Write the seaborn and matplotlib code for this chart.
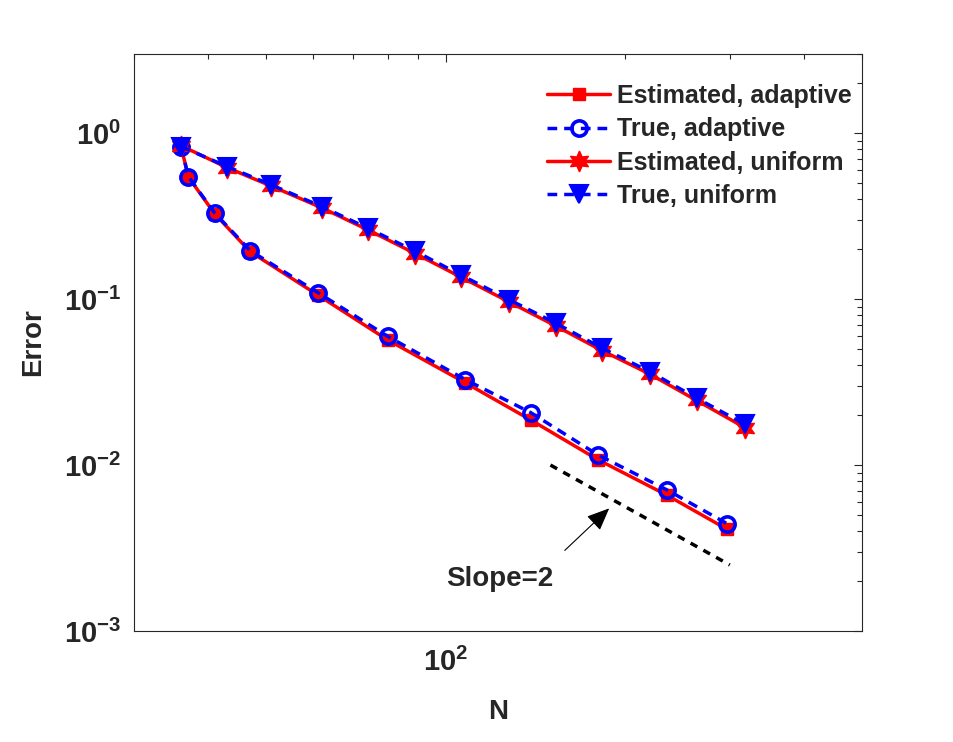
import numpy as np
import pandas as pd
import seaborn as sns
import matplotlib.pyplot as plt
from matplotlib.ticker import FuncFormatter, NullFormatter, LogLocator

# values
n_adaptive = [36, 37, 41, 47, 61, 80, 108, 139, 180, 235, 297]
err_est_adaptive = [0.83, 0.545, 0.326, 0.193, 0.106, 0.0567, 0.0313, 0.0187, 0.0108, 0.0066, 0.0041]
err_true_adaptive = [0.83, 0.548, 0.330, 0.196, 0.1096, 0.0596, 0.0327, 0.0207, 0.01154, 0.0071, 0.00443]

n_uniform = [36, 43, 51, 62, 74, 89, 106, 128, 153, 183, 220, 264, 318]
err_est_uniform = [0.84, 0.62, 0.48, 0.355, 0.262, 0.188, 0.136, 0.096, 0.069, 0.049, 0.0354, 0.0245, 0.0168]
err_true_uniform = [0.83, 0.629, 0.488, 0.361, 0.268, 0.194, 0.140, 0.099, 0.0717, 0.0507, 0.0366, 0.0253, 0.0176]

slope_n = [150, 300]
slope_err = [0.01, 0.0025]

sns.set_style('white')
plt.rcParams['font.family'] = ['Liberation Sans', 'DejaVu Sans']
plt.rcParams['font.weight'] = 'bold'
plt.rcParams['mathtext.fontset'] = 'custom'
plt.rcParams['mathtext.bf'] = 'Liberation Sans:bold'
plt.rcParams['mathtext.rm'] = 'Liberation Sans:bold'

axis_col = '#262626'

fig = plt.figure(figsize=(9.54, 7.42), dpi=100)
ax = fig.add_axes([134 / 954, 111 / 742, 728 / 954, 577 / 742])

df_a = pd.DataFrame({'N': n_adaptive, 'est': err_est_adaptive, 'true': err_true_adaptive})
df_u = pd.DataFrame({'N': n_uniform, 'est': err_est_uniform, 'true': err_true_uniform})

sns.lineplot(data=df_a, x='N', y='est', ax=ax, sort=False, estimator=None,
             color='red', lw=2.5, marker='s', markersize=8,
             markerfacecolor='red', markeredgecolor='red', markeredgewidth=1,
             label='Estimated, adaptive')
sns.lineplot(data=df_a, x='N', y='true', ax=ax, sort=False, estimator=None,
             color='blue', lw=2.5, linestyle=(0, (2.8, 2.0)), marker='o', markersize=11,
             markerfacecolor='none', markeredgecolor='blue', markeredgewidth=2.6,
             label='True, adaptive')
sns.lineplot(data=df_u, x='N', y='est', ax=ax, sort=False, estimator=None,
             color='red', lw=2.5, marker=(6, 1, 0), markersize=15,
             markerfacecolor='red', markeredgecolor='red', markeredgewidth=1,
             label='Estimated, uniform')
sns.lineplot(data=df_u, x='N', y='true', ax=ax, sort=False, estimator=None,
             color='blue', lw=2.5, linestyle=(0, (2.8, 2.0)), marker='v', markersize=13,
             markerfacecolor='blue', markeredgecolor='blue', markeredgewidth=1.5,
             label='True, uniform')

ax.plot(slope_n, slope_err, color='black', lw=2.5, linestyle=(0, (2.2, 2.0)))
ax.annotate('', xy=(189.7, 0.00563), xytext=(157.3, 0.00298),
            arrowprops=dict(arrowstyle='-|>,head_length=0.7,head_width=0.3',
                            color='black', lw=0.8, mutation_scale=20))
ax.text(100.4, 0.00186, 'Slope=2', fontsize=20, fontweight='bold', ha='left', va='baseline')

ax.set_xscale('log')
ax.set_yscale('log')
ax.set_xlim(30, 500)
ax.set_ylim(1e-3, 3)

def pow_label(v, pos):
    return r'$\mathbf{10^{%d}}$' % int(round(np.log10(v)))

ax.xaxis.set_major_locator(LogLocator(base=10))
ax.yaxis.set_major_locator(LogLocator(base=10))
ax.xaxis.set_minor_locator(LogLocator(base=10, subs=np.arange(2, 10)))
ax.yaxis.set_minor_locator(LogLocator(base=10, subs=np.arange(2, 10)))
ax.xaxis.set_major_formatter(FuncFormatter(pow_label))
ax.yaxis.set_major_formatter(FuncFormatter(pow_label))
ax.xaxis.set_minor_formatter(NullFormatter())
ax.yaxis.set_minor_formatter(NullFormatter())

ax.tick_params(which='both', direction='in', top=True, right=True,
               color=axis_col, width=0.8, labelsize=21, labelcolor=axis_col)
ax.tick_params(which='major', length=6, pad=9)
ax.tick_params(axis='x', which='major', pad=12)
ax.tick_params(which='minor', length=3.5)
for s in ax.spines.values():
    s.set_color(axis_col)
    s.set_linewidth(0.8)

ax.set_xlabel('N', fontsize=20, fontweight='bold', color=axis_col, labelpad=16)
ax.set_ylabel('Error', fontsize=20, fontweight='bold', color=axis_col, labelpad=13)

ax.legend(loc='upper left', bbox_to_anchor=(0.554, 0.965), frameon=False,
          fontsize=18, handlelength=2.5, handletextpad=0.3, labelspacing=0.37,
          borderpad=0.4, borderaxespad=0)

fig.savefig('out.png', dpi=100)
